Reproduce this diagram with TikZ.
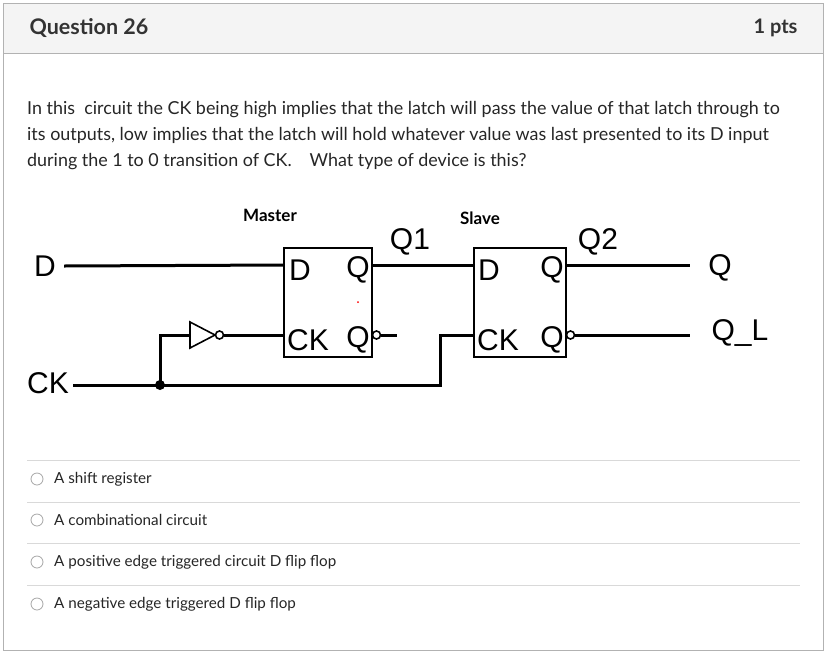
\documentclass[tikz,border=0pt]{standalone}
\usepackage{fontspec}
\setmainfont{Lato}
\newfontfamily\arialf{Liberation Sans}
\begin{document}
\begin{tikzpicture}[x=1pt,y=-1pt,
 w/.style={line width=3pt},
 lbl/.style={font=\arialf\fontsize{30}{30}\selectfont,inner sep=0},
 opt/.style={font=\fontsize{15.2}{18}\selectfont,anchor=west,inner sep=0,text=black!85},
 bub/.style={circle,draw,line width=1.6pt,minimum size=8pt,inner sep=0,fill=white}]
\useasboundingbox (0,0) rectangle (827,654);
\fill[white] (0,0) rectangle (827,654);
\fill[gray!9] (3,3) rectangle (823,53);
\draw[gray!60,line width=1pt] (3,3) rectangle (823,650);
\draw[gray!60,line width=1pt] (3,53) -- (823,53);
\node[anchor=west,font=\bfseries\fontsize{21.5}{24}\selectfont,text=black!80] (title) at (26,28) {Question 26};
\node[anchor=east,font=\bfseries\fontsize{20}{24}\selectfont,text=black!80] (pts) at (801,28) {1 pts};
\node[anchor=north west,align=left,inner sep=0,font=\fontsize{17.9}{26}\selectfont,text=black!85] (para) at (27,101) {In this\ \ circuit the CK being high implies that the latch will pass the value of that latch through to\\its outputs, low implies that the latch will hold whatever value was last presented to its D input\\during the 1 to 0 transition of CK.\quad What type of device is this?};
% boxes
\draw[line width=1.8pt] (284,248) rectangle (372,357);
\draw[line width=1.8pt] (474,248) rectangle (566,357);
\node[font=\bfseries\fontsize{17}{18}\selectfont] (ms) at (270,215) {Master};
\node[font=\bfseries\fontsize{17}{18}\selectfont] (sl) at (480,218) {Slave};
\node[lbl,anchor=west] (d1) at (289,270) {D};
\node[lbl,anchor=east] (q1i) at (370,270) {Q};
\node[lbl,anchor=west] (ck1) at (287,340) {CK};
\node[lbl,anchor=east] (qb1) at (370,340) {Q};
\node[lbl,anchor=west] (d2) at (478,270) {D};
\node[lbl,anchor=east] (q2i) at (564,270) {Q};
\node[lbl,anchor=west] (ck2) at (477,340) {CK};
\node[lbl,anchor=east] (qb2) at (564,340) {Q};
\fill[red] (358,302) circle (1pt);
% labels
\node[lbl] (D) at (45,266) {D};
\node[lbl] (CK) at (48,383) {CK};
\node[lbl] (Q) at (720,268) {Q};
\node[lbl] (QL) at (740,333) {Q\_L};
\node[lbl] (Q1) at (410,242) {Q1};
\node[lbl] (Q2) at (598,242) {Q2};
% wires
\draw[w] (D.east)+(8,0) -- (284,265);
\draw[w] (372,265) -- (474,265);
\draw[w] (566,265) -- (690,265);
\coordinate (j) at (160,385);
\draw[w] (CK.east)+(4,2) -- (440,385) -- (440,335) -- (474,335);
\draw[w] (j) -- (160,335) -- (190,335);
\fill (j) circle (5pt);
\draw[line width=1.6pt] (190,322) -- (215,335) -- (190,348) -- cycle;
\node[bub] (ib) at (219.5,335) {};
\draw[w] (ib.east) -- (284,335);
\node[bub] (mb) at (376.5,335) {};
\draw[w] (mb.east) -- (397,335);
\node[bub] (sb) at (570.5,335) {};
\draw[w] (sb.east) -- (690,335);
% options
\foreach \y in {460,502,543,585} \draw[gray!30,line width=0.8pt] (27,\y) -- (800,\y);
\foreach \y in {479,520,562,604} \draw[gray!70,line width=0.8pt] (37,\y) circle (6);
\node[opt] (o1) at (54,479) {A shift register};
\node[opt] (o2) at (54,520) {A combinational circuit};
\node[opt] (o3) at (54,562) {A positive edge triggered circuit D flip flop};
\node[opt] (o4) at (54,604) {A negative edge triggered D flip flop};
\end{tikzpicture}
\end{document}
